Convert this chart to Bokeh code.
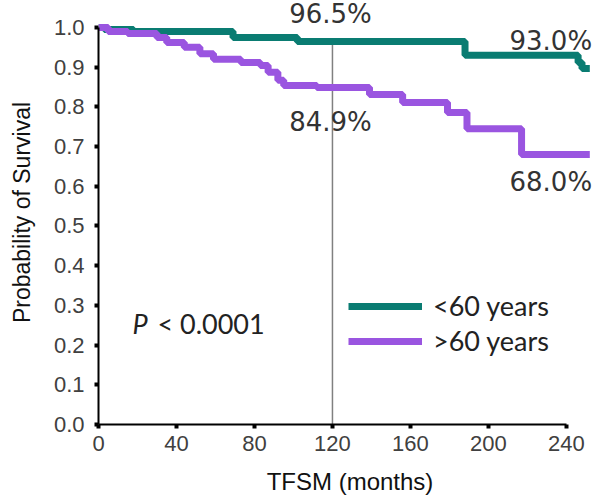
from bokeh.plotting import figure
from bokeh.models import (Range1d, FixedTicker, PrintfTickFormatter, Label, Legend,
                          LegendItem)
from bokeh.embed import file_html
from bokeh.resources import INLINE

# ---- data ----
months_lt60 = [0, 3, 18, 69, 102, 188, 246, 248, 252]
surv_lt60 = [1.0, 0.995, 0.99, 0.975, 0.965, 0.93, 0.912, 0.897, 0.897]

months_gt60 = [0, 5, 15, 30, 35, 44, 52, 59, 73, 83, 87, 92, 95, 112, 139, 156, 179, 189, 217, 252]
surv_gt60 = [1.0, 0.99, 0.985, 0.975, 0.962, 0.95, 0.934, 0.92, 0.912, 0.904, 0.887, 0.867,
             0.854, 0.849, 0.831, 0.811, 0.786, 0.745, 0.68, 0.68]

series_names = ["<60 years", ">60 years"]
x_ticks = [0, 40, 80, 120, 160, 200, 240]
y_ticks = [0.0, 0.1, 0.2, 0.3, 0.4, 0.5, 0.6, 0.7, 0.8, 0.9, 1.0]

landmark_month = 120
landmark_surv = 0.965

annot_texts = ["96.5%", "93.0%", "84.9%", "68.0%"]
annot_x = [119, 232, 119, 232]
annot_y = [1.033, 0.967, 0.761, 0.61]

p_value_text = "< 0.0001"

TEAL = "#0A7C72"
PURPLE = "#9A55E0"

p = figure(width=601, height=497, output_backend="svg", toolbar_location=None,
           x_range=Range1d(0, 258), y_range=Range1d(0, 1.068),
           min_border_left=98, min_border_top=0, min_border_right=0, min_border_bottom=10)
p.outline_line_color = None
p.xgrid.visible = False
p.ygrid.visible = False
p.background_fill_color = "white"
p.border_fill_color = "white"

# landmark vertical line
p.segment(x0=[landmark_month], y0=[0], x1=[landmark_month], y1=[landmark_surv],
          line_color="#808080", line_width=1.5)

r1 = p.step(months_lt60, surv_lt60, mode="after", line_color=TEAL, line_width=7)
r2 = p.step(months_gt60, surv_gt60, mode="after", line_color=PURPLE, line_width=7)

for t, x, y in zip(annot_texts, annot_x, annot_y):
    p.add_layout(Label(x=x, y=y, text=t, text_align="center", text_baseline="middle",
                       text_font="DejaVu Sans", text_font_size="26px", text_color="#333333"))

p.add_layout(Label(x=17.4, y=0.254, text="P", text_align="left", text_baseline="middle",
                   text_font="Lato", text_font_style="italic", text_font_size="27px",
                   text_color="#222222"))
p.add_layout(Label(x=17.4, y=0.254, x_offset=25, text=p_value_text, text_align="left",
                   text_baseline="middle", text_font="Lato", text_font_size="27px",
                   text_color="#222222"))

legend = Legend(items=[LegendItem(label=series_names[0], renderers=[r1]),
                       LegendItem(label=series_names[1], renderers=[r2])],
                location=(250, 67), padding=0, margin=0, spacing=2,
                glyph_width=74, glyph_height=24, label_height=24, label_standoff=11,
                label_text_font="Lato", label_text_font_size="27px",
                label_text_color="#222222", background_fill_alpha=0,
                border_line_color=None)
p.add_layout(legend)

for ax in p.xaxis:
    ax.ticker = FixedTicker(ticks=x_ticks)
    ax.bounds = (0, 240)
for ax in p.yaxis:
    ax.ticker = FixedTicker(ticks=y_ticks)
    ax.bounds = (0, 1)
    ax.formatter = PrintfTickFormatter(format="%.1f")

for ax in [p.xaxis[0], p.yaxis[0]]:
    ax.axis_line_color = "black"
    ax.axis_line_width = 2
    ax.major_tick_line_color = "black"
    ax.major_tick_line_width = 4
    ax.major_tick_out = 4
    ax.major_tick_in = 0
    ax.minor_tick_line_color = None
    ax.major_label_text_font = "Liberation Sans"
    ax.major_label_text_font_size = "22px"
    ax.major_label_text_color = "#404040"
    ax.axis_label_text_font = "Liberation Sans"
    ax.axis_label_text_font_style = "normal"
    ax.axis_label_text_color = "#111111"

p.xaxis.axis_label = "TFSM (months)"
p.xaxis.axis_label_text_font_size = "24px"
p.xaxis.major_label_standoff = 7
p.xaxis.axis_label_standoff = 14
p.yaxis.axis_label = "Probability of Survival"
p.yaxis.axis_label_text_font_size = "23px"
p.yaxis.major_label_standoff = 10
p.yaxis.axis_label_standoff = 16

open("out.html", "w").write(file_html(p, INLINE))
